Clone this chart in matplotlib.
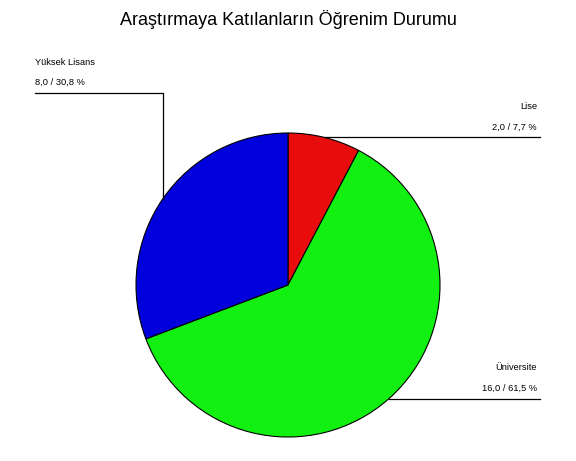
import numpy as np
import matplotlib
matplotlib.use("Agg")
import matplotlib.pyplot as plt

title = "Araştırmaya Katılanların Öğrenim Durumu"
categories = ["Lise", "Üniversite", "Yüksek Lisans"]
values = [2.0, 16.0, 8.0]
colors = ["#E80C0C", "#12F012", "#0000DC"]

W, H = 576, 461
fig = plt.figure(figsize=(W / 100, H / 100), dpi=100)
ax = fig.add_axes([0, 0, 1, 1])

cx, cy, r = 288, H - 285, 152
wedges, _ = ax.pie(values, colors=colors, startangle=90, counterclock=False,
                   center=(cx, cy), radius=r, frame=True,
                   wedgeprops=dict(edgecolor="black", linewidth=0.8))
ax.set_xlim(0, W)
ax.set_ylim(0, H)
ax.axis("off")

ax.text(W / 2, H - 20, title, ha="center", va="center", fontsize=13,
        family="Liberation Sans")

total = sum(values)
small = dict(fontsize=6.7, family="Liberation Sans")
for w, name, v in zip(wedges, categories, values):
    mid = np.deg2rad((w.theta1 + w.theta2) / 2)
    x0, y0 = cx + r * np.cos(mid), cy + r * np.sin(mid)
    pct = f"{v / total * 100:.1f}".replace(".", ",")
    txt = f"{v:.1f}".replace(".", ",") + " / " + pct + " %"
    if np.cos(mid) >= 0:
        # right side: straight horizontal leader to the label
        ax.plot([x0, 540], [y0, y0], color="black", lw=0.9)
        ax.text(537, y0 + 31, name, ha="right", va="center", **small)
        ax.text(537, y0 + 10, txt, ha="right", va="center", **small)
    else:
        # left side: up, then across to the label
        ytop = H - 93
        ax.plot([x0, x0, 35], [y0, ytop, ytop], color="black", lw=0.9)
        ax.text(35, ytop + 30, name, ha="left", va="center", **small)
        ax.text(35, ytop + 11, txt, ha="left", va="center", **small)

fig.savefig("out.png", dpi=100, facecolor="white")
